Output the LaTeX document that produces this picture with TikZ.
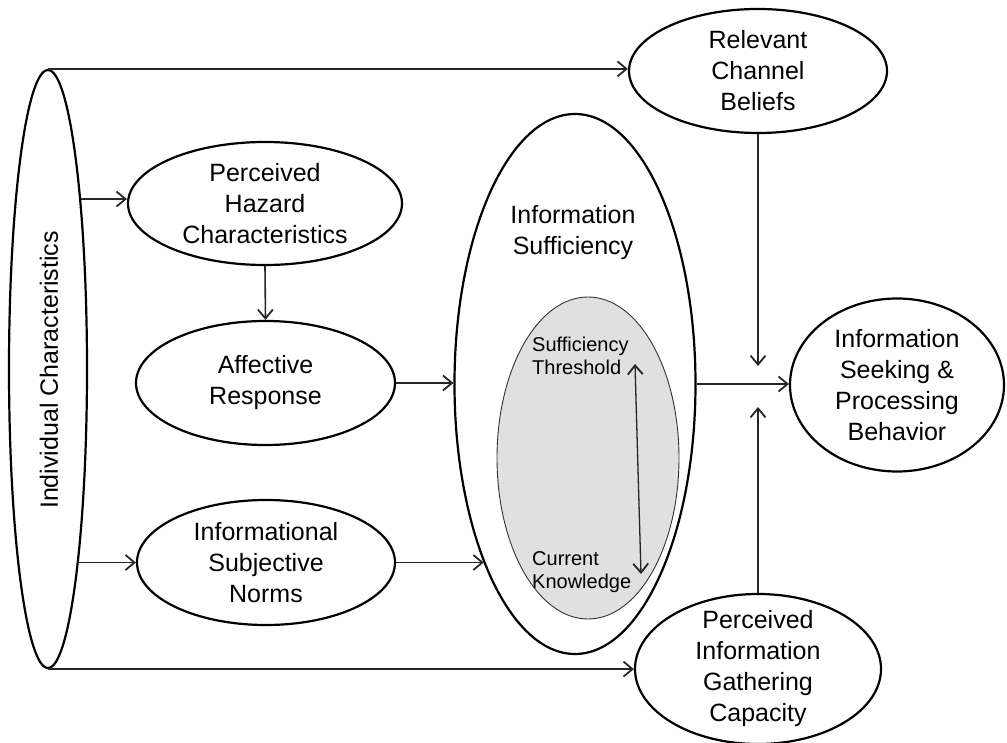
\documentclass[tikz,border=0pt]{standalone}
\usepackage{fontspec}
\setmainfont{Liberation Sans}
\usetikzlibrary{shapes.geometric,arrows.meta}
\definecolor{innerfill}{RGB}{224,224,224}
\begin{document}
\begin{tikzpicture}[x=1pt,y=-1pt,
  ell/.style={ellipse, draw=black, line width=2.2pt, inner sep=0pt},
  txt/.style={align=center, font=\fontsize{25}{31}\selectfont, inner sep=0pt},
  small/.style={align=left, font=\fontsize{20}{23}\selectfont, inner sep=0pt},
  barb/.tip={Straight Barb[length=9pt,width=15pt,line width=1.8pt]},
  arr/.style={draw=black!85, line width=1.6pt, -barb},
  dbl/.style={draw=black!85, line width=1.3pt, barb-barb},
]
\useasboundingbox (0,0) rectangle (1007,743);

% outer-left antecedent
\node[ell, minimum width=78pt, minimum height=598pt] (ind) at (48,369) {};
\node[txt, rotate=90] (indtxt) at (49,370) {Individual Characteristics};

% middle column
\node[ell, minimum width=274pt, minimum height=123pt,
      label={[txt]center:Perceived\\Hazard\\Characteristics}] (haz) at (265,203.5) {};
\node[ell, minimum width=259pt, minimum height=124pt,
      label={[txt]center:Affective\\Response}] (aff) at (265.5,383) {};
\node[ell, minimum width=258pt, minimum height=125pt,
      label={[txt]center:Informational\\Subjective\\Norms}] (nor) at (266,562.5) {};

% information sufficiency with its inner ellipse
\node[ell, minimum width=241pt, minimum height=540pt] (suf) at (575,384) {};
\node[txt] (suftxt) at (573,233) {Information\\Sufficiency};
\node[ellipse, draw=black!80, line width=0.9pt, fill=innerfill,
      minimum width=182pt, minimum height=322pt, inner sep=0pt] (inner) at (588,458) {};
\node[small, anchor=west] (thrtxt) at (532,356) {Sufficiency\\Threshold};
\node[small, anchor=west] (curtxt) at (532,572) {Current\\Knowledge};
\coordinate (thr) at (635,364);
\coordinate (cur) at (641,574);
\draw[dbl] (thr) -- (cur);

% right column
\node[ell, minimum width=258pt, minimum height=124pt,
      label={[txt]center:Relevant\\Channel\\Beliefs}] (rel) at (758,71) {};
\node[ell, minimum width=214pt, minimum height=173pt,
      label={[txt]center:Information\\Seeking \&\\Processing\\Behavior}] (seek) at (897,385) {};
\node[ell, minimum width=246pt, minimum height=150pt,
      label={[txt]center:Perceived\\Information\\Gathering\\Capacity}] (pig) at (758,669) {};

\coordinate (jt) at (758,366);
\coordinate (jb) at (758,407);

% connectors
\draw[arr] (ind.north) -- (ind.north -| rel.west);
\draw[arr] (ind.79) -- (ind.79 -| haz.west);
\draw[arr] (ind.-81.3) -- (ind.-81.3 -| nor.west);
\draw[arr] (ind.south) -- (ind.south -| pig.west);
\draw[arr] (haz.south) -- (aff.north);
\draw[arr] (aff.east) -- (aff.east -| suf.west);
\draw[arr] (nor.east) -- (nor.east -| suf.243);
\draw[arr] (suf.east) -- (suf.east -| seek.west);
\draw[arr] (rel.south) -- (jt);
\draw[arr] (pig.north) -- (jb);
\end{tikzpicture}
\end{document}
